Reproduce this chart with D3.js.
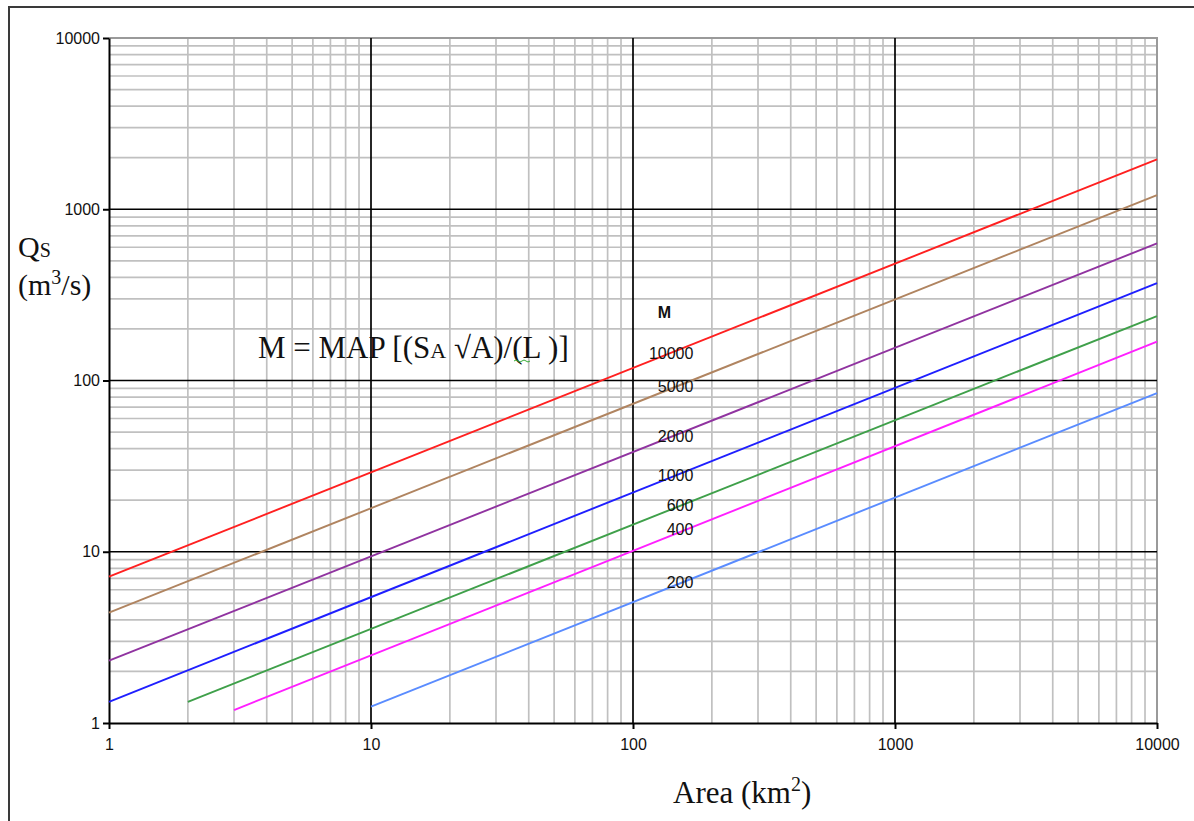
<!DOCTYPE html>
<html>
<head>
<meta charset="utf-8">
<script src="https://cdn.jsdelivr.net/npm/d3@7/dist/d3.min.js"></script>
<style>
  html, body { margin: 0; padding: 0; background: #fff; }
  svg { display: block; }
</style>
</head>
<body>
<svg id="chart" width="1194" height="821"></svg>
<script>
// ---- data ----
const mValues   = [10000, 5000, 2000, 1000, 600, 400, 200];
const seriesColors = ["#ff2020", "#b08460", "#9033a0", "#1f1fff", "#3fa04a", "#ff1fff", "#5a8cff"];
const startArea = [1, 1, 1, 1, 2, 3, 10];
const startQ    = [7.15, 4.41, 2.31, 1.33, 1.33, 1.19, 1.245];
const endArea   = [10000, 10000, 10000, 10000, 10000, 10000, 10000];
const endQ      = [1958, 1211, 632, 370, 238, 168.6, 84.5];
const labelArea = 170;                      // where the M labels sit (data units)
const labelQ    = [145, 92, 47, 28, 18.8, 13.6, 6.6];
const headerQ   = 250;
const xTicks = [1, 10, 100, 1000, 10000];
const yTicks = [1, 10, 100, 1000, 10000];
const xTickLabels = ["1", "10", "100", "1000", "10000"];
const yTickLabels = ["1", "10", "100", "1000", "10000"];

// ---- layout ----
const svg = d3.select("#chart");
const pL = 109, pR = 1157, pT = 38, pB = 723;
const x = d3.scaleLog().domain([1, 10000]).range([pL, pR]);
const y = d3.scaleLog().domain([1, 10000]).range([pB, pT]);

// outer frame
svg.append("line").attr("x1", 9).attr("x2", 9).attr("y1", 6).attr("y2", 830)
  .attr("stroke", "#3a3a3a").attr("stroke-width", 2);
svg.append("line").attr("x1", 8).attr("x2", 1200).attr("y1", 7).attr("y2", 7)
  .attr("stroke", "#3a3a3a").attr("stroke-width", 2);

// minor grid
const minor = [];
for (let d = 1; d < 10000; d *= 10) for (let k = 2; k <= 9; k++) minor.push(d * k);
const g = svg.append("g");
g.selectAll(".vminor").data(minor).enter().append("line")
  .attr("x1", d => x(d)).attr("x2", d => x(d)).attr("y1", pT).attr("y2", pB)
  .attr("stroke", "#c0c0c0").attr("stroke-width", 1.7);
g.selectAll(".hminor").data(minor).enter().append("line")
  .attr("y1", d => y(d)).attr("y2", d => y(d)).attr("x1", pL).attr("x2", pR)
  .attr("stroke", "#c0c0c0").attr("stroke-width", 1.7);

// plot border top/right (gray)
svg.append("path")
  .attr("d", `M${pL},${pT}H${pR}V${pB}`)
  .attr("fill", "none").attr("stroke", "#9a9a9a").attr("stroke-width", 2);

// major grid
const majors = [10, 100, 1000];
const g2 = svg.append("g");
g2.selectAll(".vmajor").data(majors).enter().append("line")
  .attr("x1", d => x(d)).attr("x2", d => x(d)).attr("y1", pT).attr("y2", pB)
  .attr("stroke", "#000").attr("stroke-width", 1.7);
g2.selectAll(".hmajor").data(majors).enter().append("line")
  .attr("y1", d => y(d)).attr("y2", d => y(d)).attr("x1", pL).attr("x2", pR)
  .attr("stroke", "#000").attr("stroke-width", 1.7);

// axes
const xAxis = d3.axisBottom(x).tickValues(xTicks).tickFormat((d, i) => xTickLabels[i])
  .tickSizeInner(6).tickSizeOuter(0).tickPadding(10);
const yAxis = d3.axisLeft(y).tickValues(yTicks).tickFormat((d, i) => yTickLabels[i])
  .tickSizeInner(6).tickSizeOuter(0).tickPadding(3);
const gx = svg.append("g").attr("transform", `translate(0,${pB})`).call(xAxis);
const gy = svg.append("g").attr("transform", `translate(${pL},0)`).call(yAxis);
[gx, gy].forEach(a => {
  a.select(".domain").attr("stroke", "#000").attr("stroke-width", 2);
  a.selectAll(".tick line").attr("stroke", "#000").attr("stroke-width", 2);
  a.selectAll(".tick text").attr("fill", "#111")
    .style("font-family", "'Liberation Sans', Arial, sans-serif").style("font-size", "16px");
});

// series lines
const series = mValues.map((m, i) => ({
  m, color: seriesColors[i],
  pts: [[startArea[i], startQ[i]], [endArea[i], endQ[i]]]
}));
const line = d3.line().x(d => x(d[0])).y(d => y(d[1]));
svg.append("g").selectAll("path").data(series).enter().append("path")
  .attr("d", d => line(d.pts)).attr("fill", "none")
  .attr("stroke", d => d.color).attr("stroke-width", 1.9);

// M labels
const lab = svg.append("g").style("font-family", "'Liberation Sans', Arial, sans-serif");
lab.append("text").attr("x", x(labelArea) - 29).attr("y", y(headerQ)).attr("dy", "0.36em")
  .attr("text-anchor", "middle").style("font-size", "16px").style("font-weight", "bold")
  .attr("fill", "#111").text("M");
lab.selectAll(".ml").data(mValues).enter().append("text")
  .attr("x", x(labelArea)).attr("y", (d, i) => y(labelQ[i])).attr("dy", "0.36em")
  .attr("text-anchor", "end").style("font-size", "16px").attr("fill", "#111")
  .text(d => d);

// equation
const serif = "'Liberation Serif', 'Times New Roman', serif";
const eq = svg.append("text").attr("x", 258).attr("y", 358)
  .style("font-family", serif).style("font-size", "31px").attr("fill", "#111");
eq.append("tspan").text("M = MAP [(S");
eq.append("tspan").style("font-size", "22px").text("A");
eq.append("tspan").text(" \u221AA)/(L )]");
// spell-check squiggle
svg.append("path").attr("d", "M514,361 q2,-2 4,0 t4,0 t4,0 t4,0")
  .attr("fill", "none").attr("stroke", "#3a3").attr("stroke-width", 1);

// y axis title
const qs = svg.append("text").attr("x", 18).attr("y", 257)
  .style("font-family", serif).style("font-size", "30px").attr("fill", "#111");
qs.append("tspan").text("Q");
qs.append("tspan").style("font-size", "20px").text("S");
const unit = svg.append("text").attr("x", 18).attr("y", 295)
  .style("font-family", serif).style("font-size", "30px").attr("fill", "#111");
unit.append("tspan").text("(m");
unit.append("tspan").attr("dy", -11).style("font-size", "20px").text("3");
unit.append("tspan").attr("dy", 11).text("/s)");

// x axis title
const at = svg.append("text").attr("x", 673).attr("y", 803)
  .style("font-family", serif).style("font-size", "31px").attr("fill", "#111");
at.append("tspan").text("Area (km");
at.append("tspan").attr("dy", -12).style("font-size", "20px").text("2");
at.append("tspan").attr("dy", 12).text(")");
</script>
</body>
</html>
